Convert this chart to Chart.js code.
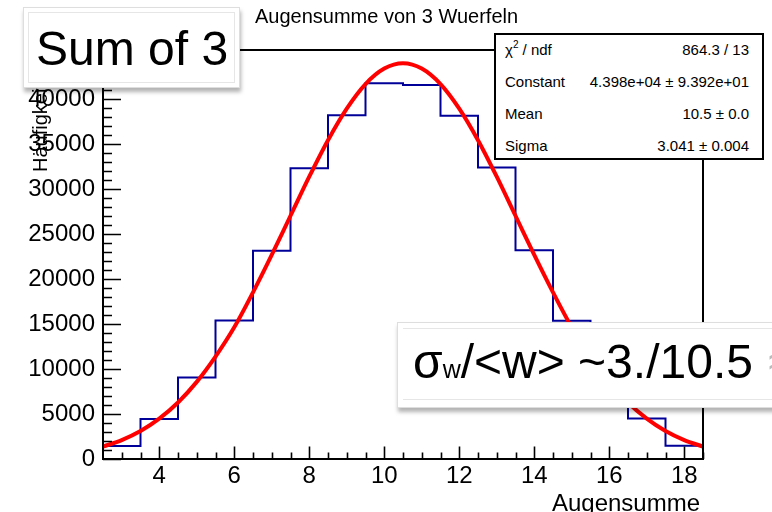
<!DOCTYPE html>
<html>
<head>
<meta charset="utf-8">
<script src="https://cdn.jsdelivr.net/npm/chart.js@4.4.1/dist/chart.umd.min.js"></script>
<style>
  html, body { margin:0; padding:0; background:#fff; overflow:hidden; }
  body { width:772px; height:512px; position:relative; font-family:"Liberation Sans", Arial, Helvetica, sans-serif; color:#000; }
  #c { position:absolute; left:0; top:0; }
  .abs { position:absolute; white-space:nowrap; line-height:1; }
  #title { left:255px; top:6px; font-size:20px; }
  #ytitle { left:30px; top:172px; font-size:20px; transform:rotate(-90deg); transform-origin:0 0; }
  #xtitle { right:72px; top:491px; font-size:24px; }
  #stats { position:absolute; left:494px; top:33px; width:270px; height:127px; box-sizing:border-box; border:2px solid #000; background:#fff; padding:0 13px 0 9px; font-size:15px; }
  #stats .row { height:32px; line-height:32px; display:flex; justify-content:space-between; margin-top:0; }
  #stats .row:first-child { margin-top:-1px; }
  #stats sup { font-size:10px; line-height:0; position:relative; top:-1px; }
  .paper { position:absolute; background:#fff; border:1px solid #dedede; box-shadow:1px 4px 4px rgba(0,0,0,0.30); box-sizing:border-box; }
  .paper .inner { position:absolute; left:4px; top:4px; right:4px; bottom:4px; border:1px solid #e6e6e6; }
  #sum { left:23px; top:7px; width:217px; height:81px; }
  #sumtxt { left:36px; top:25px; font-size:48px; }
  #sig { left:397px; top:322px; width:420px; height:86px; }
  #sig .inner { border-left:none; border-right:none; left:5px; top:5px; bottom:7px; right:0; }
  #sigtxt { left:413px; top:338px; font-size:48px; }
  #sigtxt .sub { font-size:25px; }
  #sigtxt .tail { margin-left:2px; color:#bbb; }
</style>
</head>
<body>
<canvas id="c" width="772" height="512"></canvas>
<div id="title" class="abs">Augensumme von 3 Wuerfeln</div>
<div id="ytitle" class="abs">Häufigkeit</div>
<div id="xtitle" class="abs">Augensumme</div>
<div id="stats">
  <div class="row"><span>χ<sup>2</sup> / ndf</span><span>864.3 / 13</span></div>
  <div class="row"><span>Constant</span><span>4.398e+04 ± 9.392e+01</span></div>
  <div class="row"><span>Mean</span><span>10.5 ± 0.0</span></div>
  <div class="row"><span>Sigma</span><span>3.041 ± 0.004</span></div>
</div>
<div id="sum" class="paper"><div class="inner"></div></div>
<div id="sumtxt" class="abs">Sum of 3</div>
<div id="sig" class="paper"><div class="inner"></div></div>
<div id="sigtxt" class="abs">σ<span class="sub">w</span>/&lt;w&gt; ~3./10.5 <span class="tail">≈ 0.29</span></div>
<script>
// ---- data ----
const binLowEdges = [2.5, 3.5, 4.5, 5.5, 6.5, 7.5, 8.5, 9.5, 10.5, 11.5, 12.5, 13.5, 14.5, 15.5, 16.5, 17.5];
const binHighEdge = 18.5;
const binCounts   = [1450, 4450, 9050, 15400, 23150, 32300, 38200, 41750, 41550, 38150, 32400, 23200, 15350, 9250, 4500, 1480];
const fitX = [2.5, 3, 3.5, 4, 4.5, 5, 5.5, 6, 6.5, 7, 7.5, 8, 8.5, 9, 9.5, 10, 10.5,
              11, 11.5, 12, 12.5, 13, 13.5, 14, 14.5, 15, 15.5, 16, 16.5, 17, 17.5, 18, 18.5];
const fitY = [1380, 2100, 3110, 4480, 6280, 8570, 11380, 14630, 18520, 22680, 27030, 31370, 35430, 38940, 41670, 43390, 43980,
              43390, 41670, 38940, 35430, 31370, 27030, 22680, 18520, 14630, 11380, 8570, 6280, 4480, 3110, 2100, 1380];
const xTickLabels = [4, 6, 8, 10, 12, 14, 16, 18];
const yTickLabels = [0, 5000, 10000, 15000, 20000, 25000, 30000, 35000, 40000];
const xRange = [2.5, 18.5];
const yRange = [0, 45450];

// histogram outline points: each bin's content held from its low edge to the next edge
const histPoints = binLowEdges.map((e, i) => ({x: e, y: binCounts[i]}));
histPoints.push({x: binHighEdge, y: binCounts[binCounts.length - 1]});
const fitPoints = fitX.map((v, i) => ({x: v, y: fitY[i]}));

const FONT = '"Liberation Sans", Arial, Helvetica, sans-serif';

const rootFrame = {
  id: 'rootFrame',
  afterDatasetsDraw(chart) {
    const {ctx, chartArea: a, scales: {x, y}} = chart;
    ctx.save();
    ctx.strokeStyle = '#000';
    ctx.lineWidth = 1.6;
    ctx.beginPath();
    // x ticks: major every 2, minor every 0.5
    for (let k = 6; k <= 37; k++) {
      const v = k / 2;
      const px = Math.round(x.getPixelForValue(v)) + 0.5;
      const len = (v % 2 === 0) ? 12.5 : 6.5;
      ctx.moveTo(px, a.bottom);
      ctx.lineTo(px, a.bottom - len);
    }
    // y ticks: major every 5000, minor every 1000
    for (let v = 0; v <= 45000; v += 1000) {
      const py = Math.round(y.getPixelForValue(v)) + 0.5;
      const len = (v % 5000 === 0) ? 18 : 9;
      ctx.moveTo(a.left, py);
      ctx.lineTo(a.left + len, py);
    }
    ctx.stroke();
    ctx.lineWidth = 2;
    ctx.strokeRect(a.left, a.top, a.right - a.left, a.bottom - a.top);
    ctx.restore();
  }
};

new Chart(document.getElementById('c'), {
  type: 'scatter',
  data: {
    datasets: [
      {
        label: 'Gauss fit',
        data: fitPoints,
        showLine: true,
        borderColor: '#ff0000',
        borderWidth: 4,
        pointRadius: 0,
        cubicInterpolationMode: 'monotone',
        fill: false,
        order: 0
      },
      {
        label: 'Augensumme',
        data: histPoints,
        showLine: true,
        stepped: 'before',
        borderColor: '#000099',
        borderWidth: 2,
        pointRadius: 0,
        fill: false,
        order: 1
      }
    ]
  },
  options: {
    responsive: false,
    animation: false,
    devicePixelRatio: 1,
    layout: { padding: { top: 50, right: 69, left: 0, bottom: 0 } },
    plugins: { legend: { display: false }, tooltip: { enabled: false }, title: { display: false } },
    scales: {
      x: {
        type: 'linear',
        min: xRange[0], max: xRange[1],
        grid: { display: false, drawTicks: false },
        border: { display: false },
        afterFit(s) { s.height = 53; },
        afterBuildTicks(s) { s.ticks = xTickLabels.map(v => ({value: v})); },
        ticks: { color: '#000', padding: 3, maxRotation: 0, autoSkip: false, font: { family: FONT, size: 24 } }
      },
      y: {
        type: 'linear',
        min: yRange[0], max: yRange[1],
        grid: { display: false, drawTicks: false },
        border: { display: false },
        afterFit(s) { s.width = 103; },
        afterBuildTicks(s) { s.ticks = yTickLabels.map(v => ({value: v})); },
        ticks: { color: '#000', padding: 8, autoSkip: false, font: { family: FONT, size: 24 }, callback: v => String(v) }
      }
    }
  },
  plugins: [rootFrame]
});
</script>
</body>
</html>
